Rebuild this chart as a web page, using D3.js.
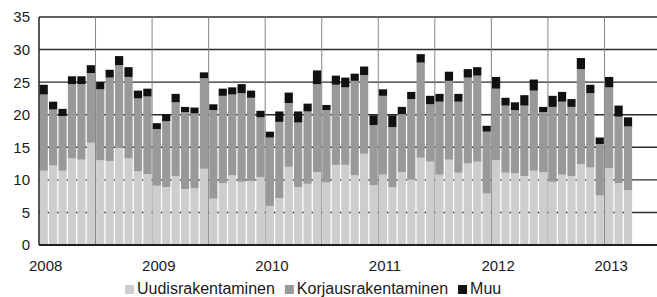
<!DOCTYPE html>
<html>
<head>
<meta charset="utf-8">
<script src="https://cdn.jsdelivr.net/npm/d3@7"></script>
<style>
    html, body { margin: 0; padding: 0; background: #fff; }
    svg { display: block; }
    text { font-family: "Liberation Sans", Arial, sans-serif; fill: #1a1a1a; }
</style>
</head>
<body>
<div class="chart"></div>
<script>
//Monthly values, Jan 2008 - Mar 2013
var uudisrakentaminen = [
    11.4, 12.2, 11.4, 13.3, 13.1, 15.7, 13.0, 12.9, 15.0, 13.3, 11.3, 10.9,
    9.1, 8.9, 10.6, 8.6, 8.7, 11.7, 7.1, 9.5, 10.7, 9.7, 9.8, 10.4,
    6.0, 7.2, 12.0, 8.9, 9.4, 11.2, 9.6, 12.3, 12.3, 10.7, 14.0, 9.2,
    10.8, 8.9, 11.2, 10.1, 13.4, 12.8, 10.8, 13.1, 11.1, 12.5, 12.8, 7.9,
    13.0, 11.1, 11.0, 10.6, 11.4, 11.2, 9.7, 10.8, 10.6, 12.4, 11.9, 7.6,
    11.8, 9.5, 8.4
];
var korjausrakentaminen = [
    11.7, 8.6, 8.4, 11.4, 11.6, 10.7, 10.9, 12.8, 12.6, 12.5, 11.2, 11.9,
    8.7, 10.1, 11.3, 11.8, 11.5, 13.9, 13.6, 13.4, 12.4, 13.6, 12.8, 9.2,
    10.5, 11.7, 9.8, 9.9, 11.1, 13.5, 11.1, 12.3, 11.9, 14.5, 12.1, 9.2,
    12.1, 9.2, 8.9, 12.3, 14.6, 8.8, 11.2, 12.1, 10.9, 13.2, 13.2, 9.5,
    11.0, 10.3, 9.7, 10.8, 12.3, 9.2, 11.5, 11.2, 10.6, 14.6, 11.4, 7.9,
    12.4, 10.2, 9.8
];
var muu = [
    1.5, 1.2, 1.1, 1.2, 1.2, 1.2, 1.1, 1.2, 1.4, 1.5, 1.2, 1.2,
    0.9, 1.1, 1.3, 0.8, 0.9, 0.9, 0.9, 1.1, 1.1, 1.4, 1.1, 1.0,
    0.9, 1.6, 1.6, 1.7, 1.2, 2.1, 0.8, 1.4, 1.5, 1.1, 1.3, 1.5,
    1.0, 1.8, 1.1, 1.1, 1.3, 1.3, 1.2, 1.4, 1.2, 1.3, 1.3, 0.9,
    1.8, 1.2, 1.2, 1.6, 1.7, 0.8, 1.7, 1.5, 1.2, 1.7, 1.3, 1.0,
    1.6, 1.7, 1.4
];

//Series and axis labels
var seriesNames = ["Uudisrakentaminen", "Korjausrakentaminen", "Muu"];
var seriesColors = ["#cdcdcd", "#999999", "#111111"];
var yTicks = [0, 5, 10, 15, 20, 25, 30, 35];
var yearLabels = ["2008", "2009", "2010", "2011", "2012", "2013"];

//Configuration
var configuration = {
    width: 657,
    height: 297,
    left: 39,
    right: 661,
    top: 17,
    bottom: 245,
    slots: 66,         //months on the axis, last three are empty
    gridEvery: 6       //vertical grid line every half year
};

//Month of every slot on the axis
var months = d3.timeMonth.range(new Date(2008, 0, 1), new Date(2013, 6, 1))
    .slice(0, configuration.slots);
var formatYear = d3.timeFormat("%Y");

//Build rows for the stack
var rows = uudisrakentaminen.map(function(v, i) {
    var row = { month: months[i] };
    row[seriesNames[0]] = v;
    row[seriesNames[1]] = korjausrakentaminen[i];
    row[seriesNames[2]] = muu[i];
    return row;
});

var stacked = d3.stack().keys(seriesNames)(rows);

//Create svg
var svg = d3.select(".chart")
    .append("svg")
        .attr("width", configuration.width)
        .attr("height", configuration.height);

//Scales
var x = d3.scaleBand()
    .domain(months)
    .range([configuration.left, configuration.right])
    .paddingInner(0.13)
    .paddingOuter(0.065);

var y = d3.scaleLinear()
    .domain([0, 35])
    .range([configuration.bottom, configuration.top]);

//Left edge of a month slot (the middle of the gap before a bar)
function slotStart(m) {
    return x(m) - x.step() * x.paddingOuter();
}

//Horizontal grid lines, behind the bars
svg.append("g")
    .selectAll("line")
    .data(yTicks.filter(function(t) { return t > 0; }))
    .join("line")
        .attr("x1", configuration.left)
        .attr("x2", configuration.width)
        .attr("y1", function(d) { return y(d); })
        .attr("y2", function(d) { return y(d); })
        .attr("stroke", "#2b2b2b")
        .attr("stroke-width", 1.4);

//Vertical grid lines every half year
svg.append("g")
    .selectAll("line")
    .data(months.filter(function(m, i) {
        return i > 0 && i % configuration.gridEvery === 0 && i <= rows.length;
    }))
    .join("line")
        .attr("x1", function(d) { return slotStart(d); })
        .attr("x2", function(d) { return slotStart(d); })
        .attr("y1", configuration.top)
        .attr("y2", configuration.bottom)
        .attr("stroke", "#858585")
        .attr("stroke-width", 1);

//Stacked bars
svg.append("g")
    .selectAll("g")
    .data(stacked)
    .join("g")
        .attr("fill", function(d, i) { return seriesColors[i]; })
    .selectAll("rect")
    .data(function(d) { return d; })
    .join("rect")
        .attr("x", function(d) { return x(d.data.month); })
        .attr("width", x.bandwidth())
        .attr("y", function(d) { return y(d[1]); })
        .attr("height", function(d) { return y(d[0]) - y(d[1]); });

//Axis lines
svg.append("line")
    .attr("x1", configuration.left)
    .attr("x2", configuration.left)
    .attr("y1", configuration.top)
    .attr("y2", configuration.bottom)
    .attr("stroke", "#222")
    .attr("stroke-width", 1.5);

svg.append("line")
    .attr("x1", configuration.left)
    .attr("x2", configuration.width)
    .attr("y1", y(0))
    .attr("y2", y(0))
    .attr("stroke", "#222")
    .attr("stroke-width", 2);

//Y tick labels
svg.append("g")
    .selectAll("text")
    .data(yTicks)
    .join("text")
        .attr("x", 30)
        .attr("y", function(d) { return y(d); })
        .attr("dy", "0.36em")
        .attr("text-anchor", "end")
        .style("font-size", "15px")
        .text(function(d) { return d; });

//Year labels under the January bars
svg.append("g")
    .selectAll("text")
    .data(yearLabels)
    .join("text")
        .attr("x", function(d) {
            var m = months.find(function(mm) {
                return mm.getMonth() === 0 && formatYear(mm) === d;
            });
            return x(m) + x.bandwidth() / 2 + 2;
        })
        .attr("y", 271)
        .attr("text-anchor", "middle")
        .style("font-size", "15px")
        .text(function(d) { return d; });

//Legend
var legend = svg.append("g");
var legendX = 125;
seriesNames.forEach(function(name, i) {
    legend.append("rect")
        .attr("x", legendX)
        .attr("y", 285)
        .attr("width", 9)
        .attr("height", 9)
        .attr("fill", seriesColors[i]);

    var label = legend.append("text")
        .attr("x", legendX + 12)
        .attr("y", 294)
        .style("font-size", "16px")
        .text(name);

    legendX += 12 + label.node().getComputedTextLength() + 10;
});
</script>
</body>
</html>
